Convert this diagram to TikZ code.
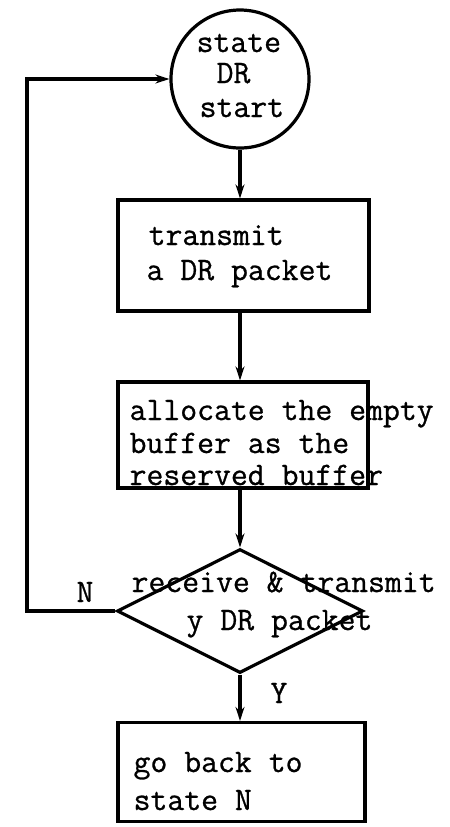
\documentclass[tikz,border=0pt]{standalone}
\usepackage{fontspec}
\setmonofont{Latin Modern Mono}[FakeBold=0.8]
\usetikzlibrary{shapes.geometric,arrows.meta}
\begin{document}
\begin{tikzpicture}[x=0.5pt,y=-0.5pt,
  line width=1.6pt,
  shapebox/.style={draw,rectangle,inner sep=0pt},
  txt/.style={anchor=base west,inner sep=0pt,font=\ttfamily\fontsize{16.4}{20}\selectfont},
  lbl/.style={anchor=base,inner sep=0pt,font=\ttfamily\fontsize{16.4}{20}\selectfont},
  arr/.style={-{Stealth[length=7pt,width=4.5pt]}}]
\useasboundingbox (0,0) rectangle (450,827);
% shapes
\node[draw,circle,inner sep=0pt,minimum size=69pt] (c) at (240,79) {};
\node[shapebox,minimum width=125.5pt,minimum height=55.5pt] (b1) at (243.5,255.5) {};
\node[shapebox,minimum width=125pt,minimum height=53pt] (b2) at (243,435) {};
\node[draw,diamond,inner sep=0pt,minimum width=123pt,minimum height=62pt] (d) at (240,611) {};
\node[shapebox,minimum width=123.5pt,minimum height=49.5pt] (b3) at (241.5,772) {};
% texts
\node[txt] (t1) at (195,52) {state};
\node[txt] (t2) at (215,83) {DR};
\node[txt] (t3) at (198,117) {start};
\node[txt] (t4) at (147,245) {transmit};
\node[txt] (t5) at (145,280) {a DR packet};
\node[txt] (t6) at (128,420) {allocate the empty};
\node[txt] (t7) at (128,453) {buffer as the};
\node[txt] (t8) at (128,485) {reserved buffer};
\node[txt] (t9) at (130,592) {receive \& transmit};
\node[txt] (t10) at (185,630) {y DR packet};
\node[txt] (t11) at (132,772) {go back to};
\node[txt] (t12) at (132,810) {state N};
\node[lbl] (ln) at (85,602) {N};
\node[lbl] (ly) at (279,703) {Y};
% connectors
\coordinate (k2) at (27,79);
\draw[arr] (c.south) -- (c.south |- b1.north);
\draw[arr] (c.south |- b1.south) -- (c.south |- b2.north);
\draw[arr] (c.south |- b2.south) -- (d.north);
\draw[arr] (d.south) -- (d.south |- b3.north);
\draw[arr] (d.west) -- (d.west -| k2) -- (k2) -- (c.west);
\end{tikzpicture}
\end{document}
